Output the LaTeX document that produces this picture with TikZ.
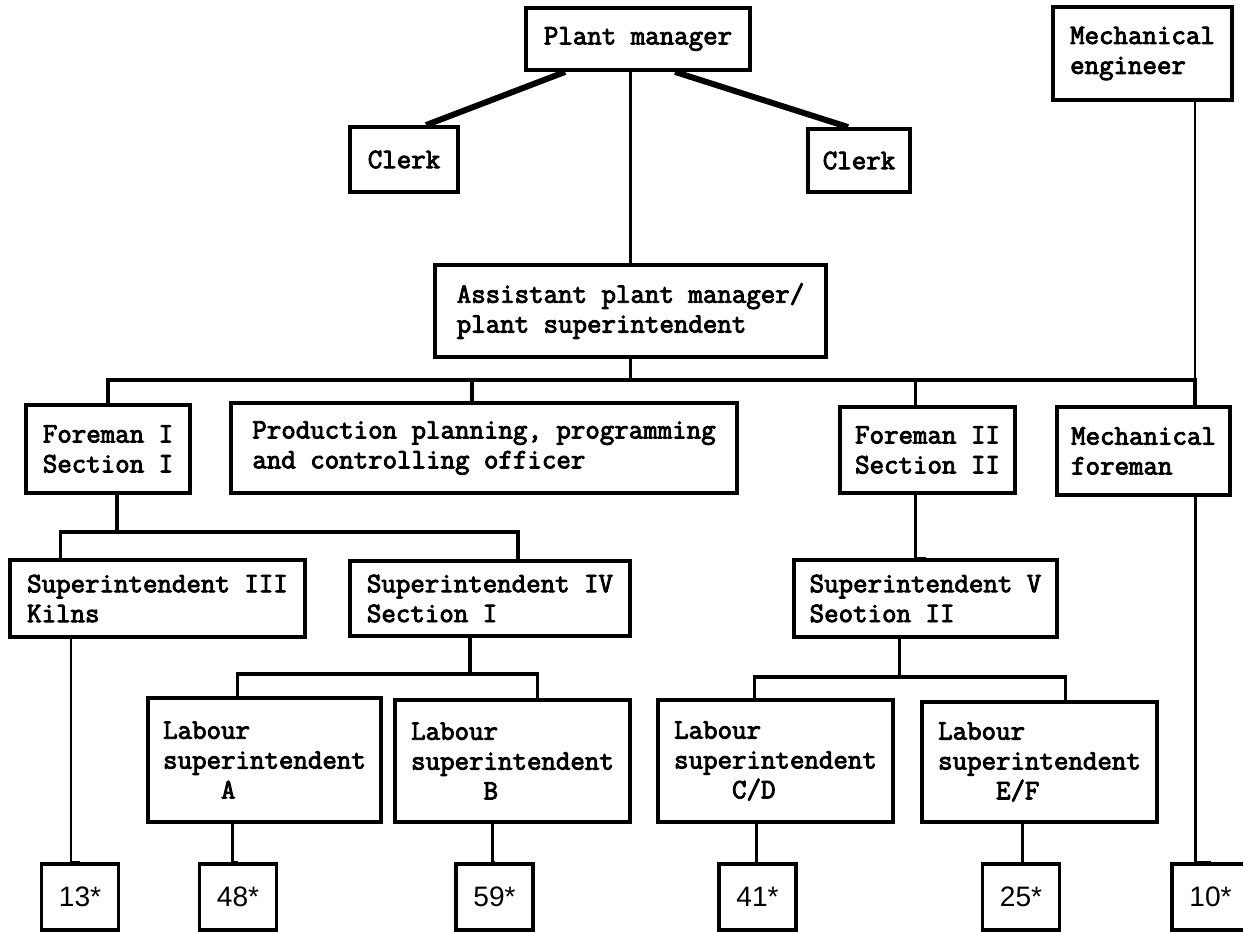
\documentclass[tikz,border=0pt]{standalone}
\usepackage{fontspec}
\newfontfamily\typefont[FakeBold=3.2]{Latin Modern Mono}
\newfontfamily\numfont{Liberation Sans}
\usetikzlibrary{calc}

\begin{document}
\begin{tikzpicture}[
    x=0.02cm, y=-0.02cm,
    box/.style 2 args={rectangle, draw, line width=2.2pt, inner sep=0pt,
        minimum width=#1*0.02cm, minimum height=#2*0.02cm, align=left,
        font=\typefont\fontsize{16}{17}\selectfont},
    numbox/.style={rectangle, draw, line width=2.2pt, inner sep=0pt,
        minimum width=77*0.02cm, minimum height=66*0.02cm,
        font=\numfont\fontsize{16}{19}\selectfont},
    link/.style={line width=1.8pt},
    thinlink/.style={line width=1.3pt},
    clerklink/.style={line width=3.4pt}
]
    \useasboundingbox (0,0) rectangle (1243,931);

    % top management
    \node[box={224}{62}] (plant) at (638,39) {Plant manager};
    \node[box={108}{65}] (clerkL) at (404,159.5) {Clerk};
    \node[box={102}{63}] (clerkR) at (859,160.5) {Clerk};
    \node[box={179}{93}] (mecheng) at (1142.5,53.5) {Mechanical\\engineer};
    \node[box={391}{92}] (asst) at (630.5,311) {Assistant plant manager/\\plant superintendent};
    \draw[clerklink] ($(plant.south west)+(41,0)$) -- ($(clerkL.north west)+(78,0)$);
    \draw[clerklink] ($(plant.south west)+(151,0)$) -- ($(clerkR.north west)+(42,0)$);
    \draw[link] (asst.north |- plant.south) -- (asst.north);

    % foremen and officer
    \node[box={164}{88}] (foremanI) at (108,449) {Foreman I\\Section I};
    \node[box={506}{90}] (prod) at (484,448) {Production planning, programming\\and controlling officer};
    \node[box={175}{86}] (foremanII) at (927.5,450) {Foreman II\\Section II};
    \node[box={173}{88}] (mechfore) at (1143.5,451) {Mechanical\\foreman};
    \coordinate (bus) at ($(asst.south)+(0,21)$);
    \draw[link] (asst.south) -- (bus);
    \draw[link] (bus) -| (foremanI.north);
    \draw[link] (bus) -| ($(prod.north)+(-12,0)$);
    \draw[link] (bus) -| ($(foremanII.north)+(-12,0)$);
    \draw[link] (bus) -| ($(mechfore.north)+(51.5,0)$);
    \draw[thinlink] ($(mecheng.south)+(52.5,0)$) -- ($(mechfore.north)+(51.5,0)$);

    % superintendents
    \node[box={295}{77}] (supIII) at (157.5,598.5) {Superintendent III\\Kilns};
    \node[box={280}{75}] (supIV) at (490,598.5) {Superintendent IV\\Section I};
    \node[box={263}{77}] (supV) at (925.5,598.5) {Superintendent V\\Seotion II};
    \coordinate (jI) at ($(foremanI.south)+(9,37)$);
    \draw[link] ($(foremanI.south)+(9,0)$) -- (jI);
    \draw[link] (jI) -| ($(supIII.north)+(-97,0)$);
    \draw[link] (jI) -| ($(supIV.north)+(28,0)$);
    \draw[link] ($(foremanII.south)+(-12,0)$) |- (supV.north);

    % labour superintendents
    \node[box={233}{124}] (labA) at (264.5,760) {Labour\\superintendent\\\phantom{xxxx}A};
    \node[box={235}{122}] (labB) at (512.5,761) {Labour\\superintendent\\\phantom{xxxxx}B};
    \node[box={235}{122}] (labCD) at (775.5,761) {Labour\\superintendent\\\phantom{xxxx}C/D};
    \node[box={235}{120}] (labEF) at (1039.5,762) {Labour\\superintendent\\\phantom{xxxx}E/F};
    \coordinate (jIV) at ($(supIV.south)+(-20,36)$);
    \draw[link] ($(supIV.south)+(-20,0)$) -- (jIV);
    \draw[link] (jIV) -| ($(labA.north)+(-27,0)$);
    \draw[link] (jIV) -| ($(labB.north)+(25,0)$);
    \coordinate (jV) at ($(supV.south)+(-26,38)$);
    \draw[link] ($(supV.south)+(-26,0)$) -- (jV);
    \draw[link] (jV) -| ($(labCD.north)+(-21,0)$);
    \draw[link] (jV) -| ($(labEF.north)+(26,0)$);

    % head counts
    \node[numbox] (n13) at (80,897) {13*};
    \node[numbox] (n48) at (238,897) {48*};
    \node[numbox] (n59) at (494.5,897) {59*};
    \node[numbox] (n41) at (757.5,897) {41*};
    \node[numbox] (n25) at (1021,897) {25*};
    \node[numbox] (n10) at (1210.5,897) {10*};
    \draw[thinlink] ($(supIII.south west)+(63,0)$) |- (n13.north);
    \draw[link] ($(labA.south)+(-32,0)$) |- (n48.north);
    \draw[link] ($(labB.south)+(-20,0)$) |- (n59.north);
    \draw[link] ($(labCD.south)+(-19,0)$) |- (n41.north);
    \draw[link] ($(labEF.south)+(-17,0)$) |- (n25.north);
    \draw[thinlink] ($(mechfore.south)+(52,0)$) |- (n10.north);
\end{tikzpicture}
\end{document}
